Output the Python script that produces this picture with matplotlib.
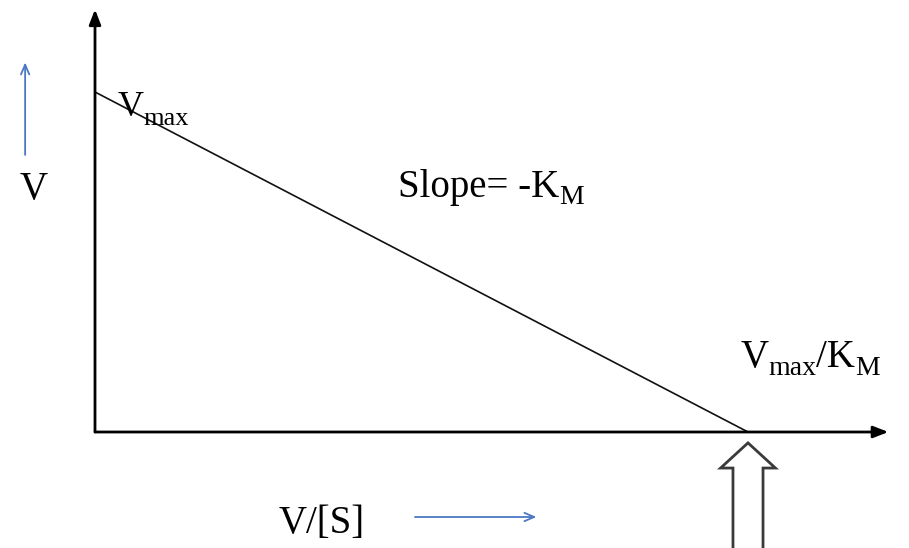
import matplotlib.pyplot as plt
from matplotlib.patches import Polygon

plt.rcParams['font.family'] = ['Liberation Serif', 'DejaVu Serif']

# Eadie-Hofstee plot: V against V/[S], intercepts in units of Vmax and Vmax/KM
v_max = 1.0
x_intercept = 1.0
line_x = [0.0, x_intercept]
line_y = [v_max, 0.0]

fig = plt.figure(figsize=(9.09, 5.48), dpi=100)
ax = fig.add_axes([0, 0, 1, 1])
ax.set_xlim(-95 / 653, 814 / 653)
ax.set_ylim(-116 / 340, 432 / 340)
ax.axis('off')
renderer = fig.canvas.get_renderer()

MAIN = 28
SUB = 20


def label(x, y, parts, center=False):
    """Write a run of text pieces (text, size, drop in px) starting at data (x, y)."""
    x0, y0 = ax.transData.transform((x, y))
    texts = []
    cur = x0
    for s, size, drop in parts:
        px, py = ax.transData.inverted().transform((cur, y0 - drop))
        t = ax.text(px, py, s, fontsize=size, va='baseline', ha='left')
        cur = t.get_window_extent(renderer).x1
        texts.append(t)
    if center:
        shift = (cur - x0) / 2
        for t in texts:
            tx, ty = ax.transData.transform(t.get_position())
            t.set_position(ax.transData.inverted().transform((tx - shift, ty)))
    return texts


# axes with filled arrow heads
head = dict(arrowstyle='-|>,head_length=0.9,head_width=0.35',
            color='black', lw=2, shrinkA=0, shrinkB=0)
ax.annotate('', xy=(1.215, 0), xytext=(0, 0), arrowprops=head)
ax.annotate('', xy=(0, 1.243), xytext=(0, 0), arrowprops=head)

# the straight line
ax.plot(line_x, line_y, color='#111111', lw=1.2)

# labels
label(0.034, 0.93, [('V', MAIN - 2, 0), ('max', SUB - 1, 9)])
label(0.606, 0.691, [('Slope= -K', MAIN, 0), ('M', SUB, 7)], center=True)
label(0.988, 0.191, [('V', MAIN, 0), ('max', SUB, 8), ('/K', MAIN, 0), ('M', SUB, 8)])
label(-0.115, 0.685, [('V', MAIN, 0)])
label(0.347, -0.297, [('V/[S]', MAIN, 0)], center=True)

# blue direction arrows
blue = '#4a78c2'
thin = dict(arrowstyle='->,head_length=0.7,head_width=0.3',
            color=blue, lw=1.3, shrinkA=0, shrinkB=0)
ax.annotate('', xy=(-0.107, 1.087), xytext=(-0.107, 0.815), arrowprops=thin)
ax.annotate('', xy=(0.676, -0.25), xytext=(0.49, -0.25), arrowprops=thin)

# hollow block arrow pointing at the x intercept
tip = -0.032
head_base = -0.106
bottom = -0.36
hw = 0.042
sw = 0.023
pts = [(x_intercept, tip), (x_intercept + hw, head_base), (x_intercept + sw, head_base),
       (x_intercept + sw, bottom), (x_intercept - sw, bottom),
       (x_intercept - sw, head_base), (x_intercept - hw, head_base)]
ax.add_patch(Polygon(pts, closed=True, facecolor='white', edgecolor='#3a3a3a', lw=2))

fig.savefig('out.png', dpi=100)
